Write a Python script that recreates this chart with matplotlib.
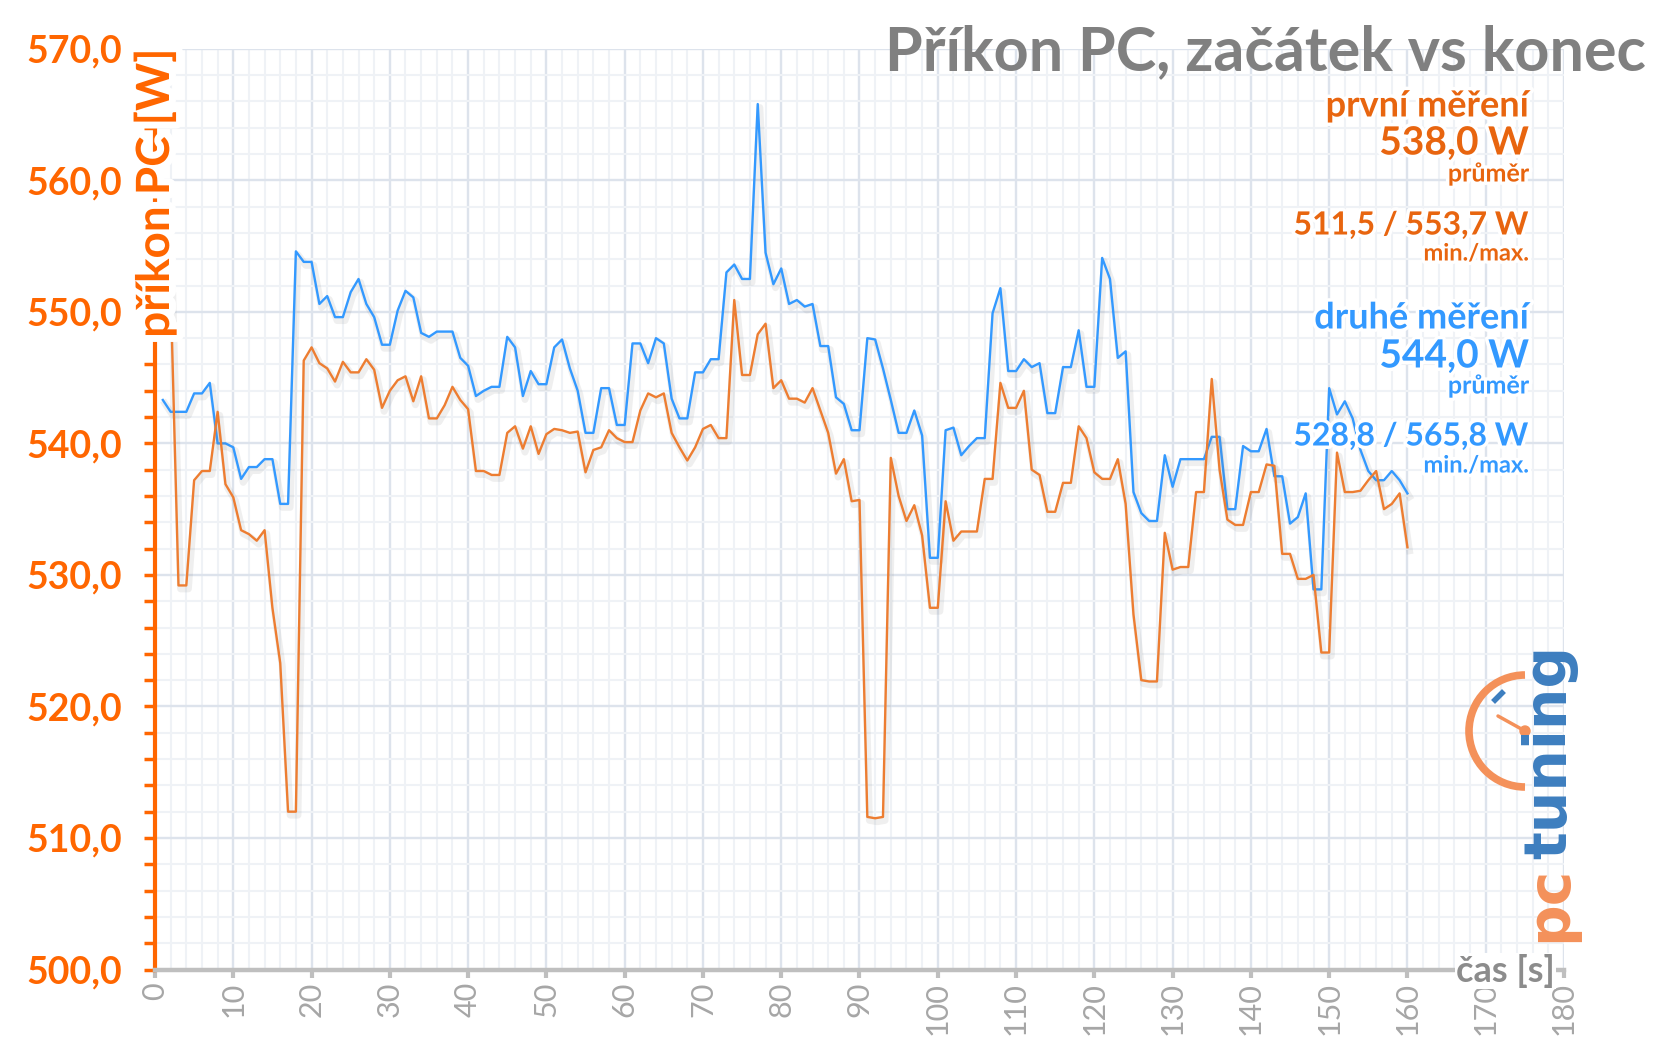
import numpy as np
import matplotlib
matplotlib.use('Agg')
import matplotlib.pyplot as plt
import matplotlib.patheffects as pe
from matplotlib.patches import Arc, Circle
from matplotlib.ticker import MultipleLocator, FuncFormatter

plt.rcParams['font.family'] = ['Lato', 'DejaVu Sans']

# čas [s] – obě měření začínají v 1. sekundě
cas = list(range(1, 161))

# první měření (oranžová)
prvni = [553.7, 551.7, 529.2, 529.2, 537.2, 537.9, 537.9, 542.4, 536.9, 535.9,
         533.4, 533.1, 532.6, 533.4, 527.5, 523.3, 512.0, 512.0, 546.3, 547.3,
         546.1, 545.7, 544.7, 546.2, 545.4, 545.4, 546.4, 545.6, 542.7, 544.0,
         544.8, 545.1, 543.2, 545.1, 541.9, 541.9, 542.9, 544.3, 543.3, 542.6,
         537.9, 537.9, 537.6, 537.6, 540.8, 541.3, 539.6, 541.3, 539.2, 540.7,
         541.1, 541.0, 540.8, 540.9, 537.8, 539.5, 539.7, 541.0, 540.4, 540.1,
         540.1, 542.5, 543.8, 543.5, 543.8, 540.8, 539.7, 538.7, 539.7, 541.1,
         541.4, 540.4, 540.4, 550.9, 545.2, 545.2, 548.3, 549.1, 544.2, 544.8,
         543.4, 543.4, 543.1, 544.2, 542.5, 540.8, 537.7, 538.8, 535.6, 535.7,
         511.6, 511.5, 511.6, 538.9, 536.0, 534.1, 535.3, 533.0, 527.5, 527.5,
         535.6, 532.6, 533.3, 533.3, 533.3, 537.3, 537.3, 544.6, 542.7, 542.7,
         544.0, 538.0, 537.6, 534.8, 534.8, 537.0, 537.0, 541.3, 540.4, 537.8,
         537.3, 537.3, 538.8, 535.4, 527.0, 522.0, 521.9, 521.9, 533.2, 530.4,
         530.6, 530.6, 536.3, 536.3, 544.9, 538.0, 534.2, 533.8, 533.8, 536.3,
         536.3, 538.4, 538.3, 531.6, 531.6, 529.7, 529.7, 530.0, 524.1, 524.1,
         539.3, 536.3, 536.3, 536.4, 537.2, 537.9, 535.0, 535.4, 536.2, 532.1]

# druhé měření (modrá)
druhe = [543.3, 542.4, 542.4, 542.4, 543.8, 543.8, 544.6, 540.0, 540.0, 539.7,
         537.3, 538.2, 538.2, 538.8, 538.8, 535.4, 535.4, 554.6, 553.8, 553.8,
         550.6, 551.2, 549.6, 549.6, 551.5, 552.5, 550.6, 549.6, 547.5, 547.5,
         550.1, 551.6, 551.1, 548.4, 548.1, 548.5, 548.5, 548.5, 546.5, 545.9,
         543.6, 544.0, 544.3, 544.3, 548.1, 547.3, 543.6, 545.5, 544.5, 544.5,
         547.3, 547.9, 545.7, 544.0, 540.8, 540.8, 544.2, 544.2, 541.4, 541.4,
         547.6, 547.6, 546.1, 548.0, 547.6, 543.4, 541.9, 541.9, 545.4, 545.4,
         546.4, 546.4, 553.0, 553.6, 552.5, 552.5, 565.8, 554.5, 552.1, 553.3,
         550.6, 550.9, 550.4, 550.6, 547.4, 547.4, 543.5, 543.0, 541.0, 541.0,
         548.0, 547.9, 545.7, 543.3, 540.8, 540.8, 542.5, 540.6, 531.3, 531.3,
         541.0, 541.2, 539.1, 539.8, 540.4, 540.4, 549.9, 551.8, 545.5, 545.5,
         546.4, 545.8, 546.1, 542.3, 542.3, 545.8, 545.8, 548.6, 544.3, 544.3,
         554.1, 552.5, 546.5, 547.0, 536.3, 534.7, 534.1, 534.1, 539.1, 536.7,
         538.8, 538.8, 538.8, 538.8, 540.5, 540.5, 535.0, 535.0, 539.8, 539.4,
         539.4, 541.1, 537.5, 537.5, 533.9, 534.4, 536.2, 528.9, 528.9, 544.2,
         542.2, 543.2, 541.9, 539.5, 537.9, 537.2, 537.2, 537.9, 537.2, 536.2]

W, H = 1665, 1058
fig = plt.figure(figsize=(W / 100, H / 100), dpi=100)
fig.patch.set_facecolor('white')
ax = fig.add_axes([155 / W, 1 - 969.5 / H, (1564 - 155) / W, (969.5 - 48.8) / H])

oranzova = '#ed7d31'
modra = '#3399ff'
stin = [pe.SimpleLineShadow(offset=(1.5, -2.5), shadow_color='#808080', alpha=0.12, linewidth=5), pe.Normal()]
ax.plot(cas, druhe, color=modra, lw=1.7, zorder=3, path_effects=stin)
ax.plot(cas, prvni, color=oranzova, lw=1.7, zorder=4, path_effects=stin)

ax.set_xlim(0, 180)
ax.set_ylim(500, 570)
ax.xaxis.set_major_locator(MultipleLocator(10))
ax.xaxis.set_minor_locator(MultipleLocator(2))
ax.yaxis.set_major_locator(MultipleLocator(10))
ax.yaxis.set_minor_locator(MultipleLocator(2))
ax.yaxis.set_major_formatter(FuncFormatter(lambda v, p: f'{v:.1f}'.replace('.', ',')))

ax.grid(which='major', color='#dde3ec', lw=1.7, zorder=0)
ax.grid(which='minor', color='#eff2f6', lw=1.5, zorder=0)
ax.set_axisbelow(True)

for s in ['top', 'right']:
    ax.spines[s].set_visible(False)
ax.spines['left'].set_color('#ff6600')
ax.spines['left'].set_linewidth(3)
ax.spines['bottom'].set_color('#bfbfbf')
ax.spines['bottom'].set_linewidth(3.2)

ax.tick_params(axis='y', which='both', colors='#ff6600', width=2.5, length=8, pad=16,
               labelsize=27)
for t in ax.get_yticklabels():
    t.set_fontweight('bold')
ax.tick_params(axis='x', which='major', colors='#bfbfbf', width=3, length=6, pad=3,
               labelsize=22, labelcolor='#a6a6a6', labelrotation=90)
ax.tick_params(axis='x', which='minor', length=0)

bila = [pe.withStroke(linewidth=10, foreground='white')]
ax.text(0, 1.0, 'příkon PC [W]', transform=ax.transAxes, rotation=90, ha='center', va='top',
        color='#ff6600', fontsize=33, fontweight='bold', zorder=10, clip_on=False,
        path_effects=bila)

fig.text(1555 / W, 1 - 971 / H, 'čas [s]', ha='right', va='center', color='#8c8c8c',
         fontsize=26, fontweight='bold', zorder=5,
         bbox=dict(facecolor='white', edgecolor='none', pad=1))

fig.text(1646 / W, 1 - 70 / H, 'Příkon PC, začátek vs konec', ha='right', va='baseline',
         color='#808080', fontsize=44, fontweight='bold')

# souhrnné hodnoty vpravo
xr = 1529 / W
glow = [pe.withStroke(linewidth=5, foreground='white')]
popisky = [
    ('první měření', 106, 26, '#e8650f'),
    ('538,0 W', 143, 28, '#e8650f'),
    ('průměr', 174, 18, '#e8650f'),
    ('511,5 / 553,7 W', 225, 23, '#e8650f'),
    ('min./max.', 253, 17, '#e8650f'),
    ('druhé měření', 318, 26, '#3399ff'),
    ('544,0 W', 356, 28, '#3399ff'),
    ('průměr', 386, 18, '#3399ff'),
    ('528,8 / 565,8 W', 436, 23, '#3399ff'),
    ('min./max.', 465, 17, '#3399ff'),
]
for txt, yc, fs, col in popisky:
    fig.text(xr, 1 - yc / H, txt, ha='right', va='center', color=col, fontsize=fs,
             fontweight='bold', path_effects=glow, zorder=20)

# logo pctuning
lax = fig.add_axes([0, 0, 1, 1], facecolor='none')
lax.set_xlim(0, W)
lax.set_ylim(0, H)
lax.axis('off')
cx, cy = 1525, H - 731
lax.add_patch(Arc((cx, cy), 112, 112, theta1=90, theta2=270, color='#f4915a', lw=5.5))
lax.plot([cx, cx - 27], [cy, cy + 15], color='#f4915a', lw=2.5, solid_capstyle='round')
lax.add_patch(Circle((cx, cy), 5, color='#f4915a'))
lax.plot([1495, 1502], [H - 700, H - 693], color='#3d7ebf', lw=4)
lax.text(1550, H - 904, 'pc', rotation=90, ha='center', va='center', color='#f4915a',
         fontsize=42, fontweight='bold', family='DejaVu Sans')
lax.text(1550, H - 752, 'tuning', rotation=90, ha='center', va='center', color='#3d7ebf',
         fontsize=42, fontweight='bold', family='DejaVu Sans')

fig.savefig('out.png', dpi=100, facecolor='white')
